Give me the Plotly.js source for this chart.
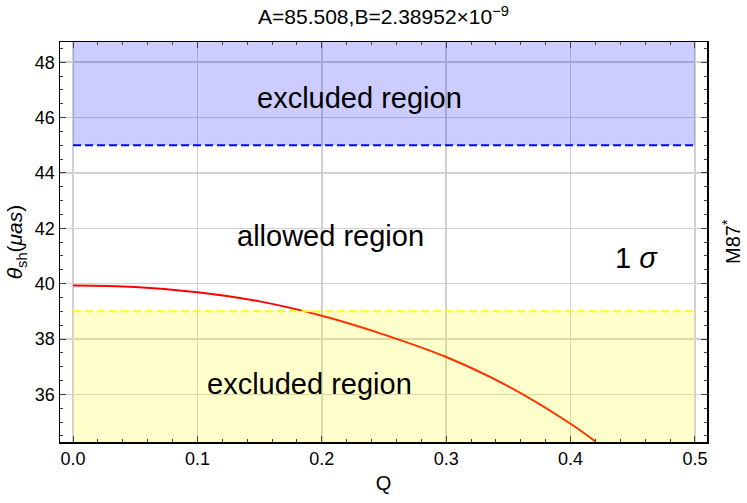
<!DOCTYPE html>
<html>
<head>
<meta charset="utf-8">
<script src="https://cdn.plot.ly/plotly-3.0.1.min.js"></script>
<style>
  html, body { margin: 0; padding: 0; background: #fff; }
  #chart { width: 747px; height: 503px; }
</style>
</head>
<body>
<div id="chart"></div>
<script>
// shadow angle curve
const qValues = [0, 0.05, 0.1, 0.15, 0.2, 0.25, 0.3, 0.35, 0.4, 0.42];
const thetaValues = [39.93, 39.88, 39.69, 39.36, 38.84, 38.16, 37.35, 36.29, 34.94, 34.30];

// bounds of the allowed band (1 sigma)
const qSpan = [0, 0.5];
const upperBound = 45;
const lowerBound = 39;
const thetaTop = 49;
const thetaBottom = 34;

const xTicks = [0, 0.1, 0.2, 0.3, 0.4, 0.5];
const xTickLabels = ['0.0', '0.1', '0.2', '0.3', '0.4', '0.5'];
const yTicks = [36, 38, 40, 42, 44, 46, 48];

const font = 'Liberation Sans, Arial, sans-serif';

const traces = [
    {
        // upper excluded region
        x: [qSpan[0], qSpan[1], qSpan[1], qSpan[0]],
        y: [upperBound, upperBound, thetaTop, thetaTop],
        fill: 'toself',
        fillcolor: 'rgba(0,0,255,0.2)',
        line: { width: 0 },
        mode: 'lines',
        hoverinfo: 'skip'
    },
    {
        x: qValues,
        y: thetaValues,
        mode: 'lines',
        line: { color: '#ff0000', width: 2, shape: 'spline' }
    },
    {
        // lower excluded region, drawn over the curve
        x: [qSpan[0], qSpan[1], qSpan[1], qSpan[0]],
        y: [thetaBottom, thetaBottom, lowerBound, lowerBound],
        fill: 'toself',
        fillcolor: 'rgba(255,255,0,0.2)',
        line: { width: 0 },
        mode: 'lines',
        hoverinfo: 'skip'
    },
    {
        x: qSpan,
        y: [upperBound, upperBound],
        mode: 'lines',
        line: { color: '#0000ff', width: 2, dash: '8px,4px' }
    },
    {
        x: qSpan,
        y: [lowerBound, lowerBound],
        mode: 'lines',
        line: { color: '#ffff00', width: 2, dash: '8px,4px' }
    }
];

const axisCommon = {
    showline: true,
    linecolor: '#000',
    linewidth: 1.5,
    mirror: 'allticks',
    ticks: 'inside',
    ticklen: 6,
    tickwidth: 1,
    tickcolor: '#444',
    showgrid: true,
    gridcolor: '#d0d0d0',
    gridwidth: 1.5,
    zeroline: false,
    tickfont: { family: font, size: 18, color: '#000' }
};

const layout = {
    width: 747,
    height: 503,
    margin: { l: 60, r: 40, t: 42, b: 61 },
    paper_bgcolor: '#fff',
    plot_bgcolor: '#fff',
    showlegend: false,
    font: { family: font, color: '#000' },
    title: {
        text: 'A=85.508,B=2.38952×10<sup>−9</sup>',
        font: { family: font, size: 21, color: '#000' },
        x: 0.5,
        xref: 'paper',
        y: 0.966,
        yref: 'container',
        yanchor: 'middle'
    },
    xaxis: Object.assign({}, axisCommon, {
        range: [-0.0105, 0.5097],
        tickvals: xTicks,
        ticktext: xTickLabels,
        minor: { dtick: 0.02, ticks: 'inside', ticklen: 3, tickcolor: '#444', showgrid: false },
        title: { text: 'Q', font: { family: font, size: 20 }, standoff: 8 }
    }),
    yaxis: Object.assign({}, axisCommon, {
        range: [34.28, 48.73],
        tickvals: yTicks,
        minor: { dtick: 0.5, ticks: 'inside', ticklen: 3, tickcolor: '#444', showgrid: false },
        title: { text: '<i>θ</i><sub>sh</sub>(<i>μas</i>)', font: { family: font, size: 21 }, standoff: 6 }
    }),
    annotations: [
        { x: 0.23, y: 46.72, text: 'excluded region', showarrow: false, font: { family: font, size: 29 } },
        { x: 0.207, y: 41.73, text: 'allowed region', showarrow: false, font: { family: font, size: 29 } },
        { x: 0.19, y: 36.39, text: 'excluded region', showarrow: false, font: { family: font, size: 29 } },
        { x: 0.453, y: 40.94, text: '1 <i>σ</i>', showarrow: false, font: { family: font, size: 29 } },
        {
            x: 1, xref: 'paper', xanchor: 'center', xshift: 24,
            y: 0.5, yref: 'paper', yanchor: 'middle',
            text: 'M87<sup>*</sup>', textangle: -90, showarrow: false,
            font: { family: font, size: 20 }
        }
    ]
};

Plotly.newPlot('chart', traces, layout, { displayModeBar: false, staticPlot: true });
</script>
</body>
</html>
